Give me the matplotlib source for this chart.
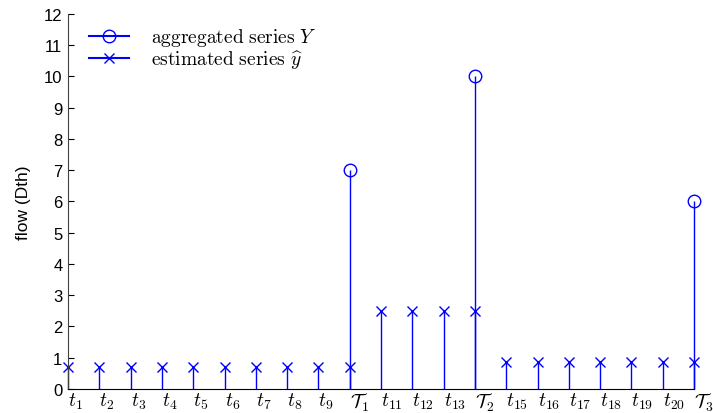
import matplotlib
matplotlib.use("Agg")
import matplotlib.pyplot as plt
from matplotlib.lines import Line2D
from matplotlib.legend_handler import HandlerLine2D
import numpy as np

plt.rcParams['font.family'] = ['Liberation Sans', 'DejaVu Sans']
plt.rcParams['mathtext.fontset'] = 'cm'

# time steps and their labels
steps = np.arange(1, 22)
step_labels = [r'$t_{%d}$' % i for i in range(1, 10)] + [r'$\mathcal{T}_1$'] + \
              [r'$t_{%d}$' % i for i in range(11, 14)] + [r'$\mathcal{T}_2$'] + \
              [r'$t_{%d}$' % i for i in range(15, 21)] + [r'$\mathcal{T}_3$']

# aggregated observations
agg_steps = [10, 14, 21]
agg_values = [7, 10, 6]

# estimated series (spread evenly over each period)
est_values = [0.7] * 10 + [2.5] * 4 + [6 / 7] * 7

blue = '#0000ff'


class EndMarkerHandler(HandlerLine2D):
    # marker drawn at the right end of the legend line
    def get_xdata(self, legend, xdescent, ydescent, width, height, fontsize):
        xdata = [-xdescent, -xdescent + width]
        return xdata, [xdata[-1]]


fig = plt.figure(figsize=(7.13, 4.14), dpi=100)
ax = fig.add_axes([0.0954, 0.058, 0.878, 0.9065])

ml, sl, bl = ax.stem(steps, est_values, linefmt='-', markerfmt='x', basefmt=' ')
plt.setp(sl, color=blue, linewidth=1.0, clip_on=False)
plt.setp(ml, color=blue, markersize=7, markeredgewidth=1.0, clip_on=False)

ml2, sl2, bl2 = ax.stem(agg_steps, agg_values, linefmt='-', markerfmt='o', basefmt=' ')
plt.setp(sl2, color=blue, linewidth=1.0, clip_on=False)
plt.setp(ml2, color=blue, markerfacecolor='none', markersize=9, markeredgewidth=1.0,
         clip_on=False)

ax.set_xlim(1, 21)
ax.set_ylim(0, 12)
ax.set_yticks(range(0, 13))
ax.set_xticks(steps)
ax.set_xticklabels(step_labels, fontsize=14, ha='left')
ax.tick_params(axis='x', length=0, pad=1)
ax.tick_params(axis='y', direction='in', length=4, labelsize=12, pad=4)
ax.spines['top'].set_visible(False)
ax.spines['right'].set_visible(False)
ax.spines['left'].set_color('#404040')
ax.set_ylabel('flow (Dth)', fontsize=12.5, labelpad=9)

handles = [Line2D([], [], color=blue, marker='o', markerfacecolor='none', markersize=9),
           Line2D([], [], color=blue, marker='x', markersize=7)]
labels = [r'$\mathrm{aggregated\ series}\ Y$', r'$\mathrm{estimated\ series}\ \widehat{y}$']
ax.legend(handles, labels, loc='upper left', bbox_to_anchor=(0.005, 1.013), frameon=False,
          fontsize=14, handlelength=2.05, handletextpad=1.15, labelspacing=0.0,
          borderaxespad=0.5, handler_map={Line2D: EndMarkerHandler()})

fig.savefig('out.png', dpi=100)
